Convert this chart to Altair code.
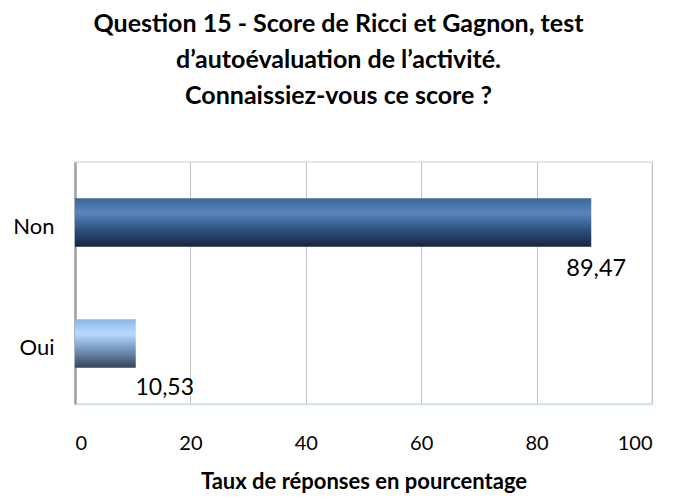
import altair as alt
import pandas as pd

categories = ["Non", "Oui"]
values = [89.47, 10.53]
labels = ["89,47", "10,53"]
x_ticks = [0, 20, 40, 60, 80, 100]
title_lines = [
    "Question 15 - Score de Ricci et Gagnon, test",
    "d\u2019autoévaluation de l\u2019activité.",
    "Connaissiez-vous ce score ?",
]
x_title = "Taux de réponses en pourcentage"

df = pd.DataFrame({"cat": categories, "val": values, "lab": labels})

FONT = "Lato"


def grad(stops):
    return alt.LinearGradient(
        gradient="linear",
        stops=[alt.GradientStop(color=c, offset=o) for o, c in stops],
        x1=0, x2=0, y1=0, y2=1,
    )


grad_non = grad([(0, "#3d6699"), (0.3, "#5a86bc"), (0.65, "#2f5182"), (1, "#17253b")])
grad_oui = grad([(0, "#8ab6e8"), (0.3, "#b6dbff"), (0.65, "#7190b6"), (1, "#34445a")])

x_enc = alt.X(
    "val:Q",
    scale=alt.Scale(domain=[0, 100], nice=False),
    axis=alt.Axis(
        values=x_ticks,
        title=x_title,
        titleFont=FONT,
        titleFontSize=22,
        titleFontWeight="bold",
        titleColor="#000000",
        titlePadding=18,
        labelFont=FONT,
        labelFontSize=20,
        labelColor="#000000",
        labelPadding=29,
        ticks=False,
        grid=True,
        gridColor="#c4c4c4",
        gridWidth=1,
        domainColor="#cfe3ea",
        domainWidth=1.5,
    ),
)
y_enc = alt.Y(
    "cat:N",
    scale=alt.Scale(domain=categories, paddingInner=0.6, paddingOuter=0.3),
    axis=alt.Axis(
        title=None,
        ticks=False,
        labelPadding=21,
        labelOffset=4,
        labelFont=FONT,
        labelFontSize=22,
        labelColor="#000000",
        domainColor="#a0a0a0",
        domainWidth=2.5,
    ),
)

base = alt.Chart().encode(x=x_enc, y=y_enc)

bar_non = base.transform_filter(alt.datum.cat == "Non").mark_bar(color=grad_non)
bar_oui = base.transform_filter(alt.datum.cat == "Oui").mark_bar(color=grad_oui)

text_non = base.transform_filter(alt.datum.cat == "Non").mark_text(
    align="center", baseline="middle", dx=5, dy=46, font=FONT, fontSize=23.5, color="#000000"
).encode(text="lab:N")
text_oui = base.transform_filter(alt.datum.cat == "Oui").mark_text(
    align="center", baseline="middle", dx=29, dy=44, font=FONT, fontSize=23, color="#000000"
).encode(text="lab:N")

chart = alt.layer(bar_non, bar_oui, text_non, text_oui, data=df).properties(
    width=577,
    height=242,
    title=alt.TitleParams(
        text=title_lines,
        font=FONT,
        fontSize=25,
        fontWeight="bold",
        color="#000000",
        lineHeight=36,
        anchor="middle",
        dx=-25,
        offset=53,
    ),
    autosize=alt.AutoSizeParams(type="none"),
    padding={"left": 67, "top": 154, "right": 14, "bottom": 91},
).configure_view(stroke="#cfe3ea", strokeWidth=1.5)

chart.save("out.html", embed_options={"renderer": "svg", "actions": False})
